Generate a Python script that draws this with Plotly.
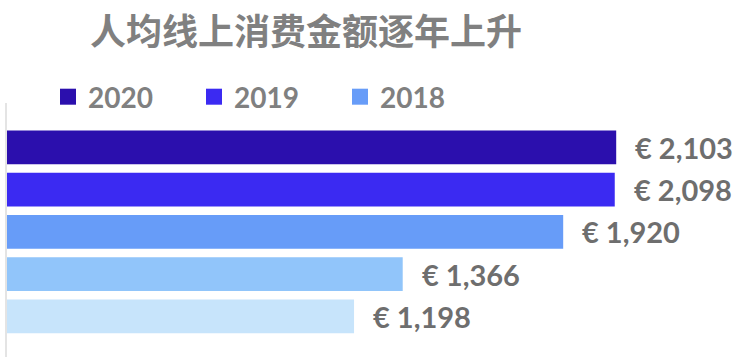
import plotly.graph_objects as go

title_text = "人均线上消费金额逐年上升"
years = ["2020", "2019", "2018", "2017", "2016"]
values = [2103, 2098, 1920, 1366, 1198]
label_texts = ["€ 2,103", "€ 2,098", "€ 1,920", "€ 1,366", "€ 1,198"]
legend_years = ["2020", "2019", "2018"]
colors = ["#2B0FAD", "#3B2AF2", "#679CF8", "#91C5FA", "#C7E4FB"]

W, H = 737, 357
FONT = "Lato"

fig = go.Figure()
for i, (yr, v, c) in enumerate(zip(years, values, colors)):
    fig.add_trace(go.Bar(
        x=[v], y=[i], orientation="h", name=yr,
        marker=dict(color=c, line=dict(width=0)),
        width=0.8, showlegend=False, hoverinfo="x+name",
    ))

for yr in legend_years:
    c = colors[years.index(yr)]
    fig.add_trace(go.Scatter(
        x=[None], y=[None], mode="markers", name=yr,
        marker=dict(symbol="square", size=16, color=c),
        showlegend=True,
    ))

for i, (v, t) in enumerate(zip(values, label_texts)):
    fig.add_annotation(
        x=v, y=i, xref="x", yref="y", text=t, showarrow=False,
        xanchor="left", yanchor="middle", xshift=17,
        font=dict(family=FONT, size=29, color="#6E6E6E", weight="bold"),
    )

fig.update_layout(
    width=W, height=H,
    margin=dict(l=7, r=0, t=103, b=0, autoexpand=False),
    paper_bgcolor="white", plot_bgcolor="white",
    barmode="overlay",
    title=dict(
        text=title_text, xref="container", yref="container",
        x=90 / W, xanchor="left", y=1 - 32 / H, yanchor="middle",
        font=dict(family="Noto Sans CJK SC", size=36, color="#808080", weight="bold"),
    ),
    legend=dict(
        orientation="h", xref="container", yref="container",
        x=48 / W, xanchor="left", y=1 - 97 / H, yanchor="middle",
        entrywidth=101, entrywidthmode="pixels",
        font=dict(family=FONT, size=28, color="#808080", weight="bold"),
        bgcolor="rgba(0,0,0,0)", itemclick=False, itemdoubleclick=False,
    ),
    xaxis=dict(range=[0, 2520], visible=False, fixedrange=True),
    yaxis=dict(
        range=[4.96, -1.05], showticklabels=False, showgrid=False,
        zeroline=False, showline=True, linecolor="#E4E4E4", linewidth=2,
        ticks="", fixedrange=True,
    ),
    showlegend=True,
)

fig.write_html(
    "out.html",
    config={"displayModeBar": False},
    post_script="document.body.style.margin='0';",
)
